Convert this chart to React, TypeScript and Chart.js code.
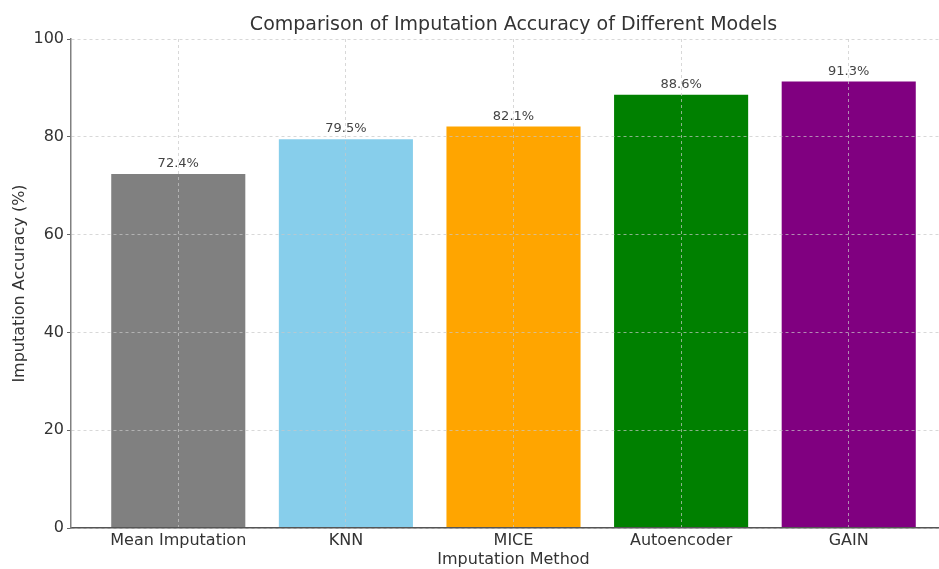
import React, { useEffect, useRef } from "react";
import { Chart, registerables } from "chart.js";

Chart.register(...registerables);

const categories = ["Mean Imputation", "KNN", "MICE", "Autoencoder", "GAIN"];
const accuracy = [72.4, 79.5, 82.1, 88.6, 91.3];
const barColors = ["#808080", "#87CEEB", "#FFA500", "#008000", "#800080"];
const yTicks = [0, 20, 40, 60, 80, 100];
const chartTitle = "Comparison of Imputation Accuracy of Different Models";
const xTitle = "Imputation Method";
const yTitle = "Imputation Accuracy (%)";

const FONT = "'DejaVu Sans', sans-serif";

export default function App() {
  const ref = useRef<HTMLCanvasElement | null>(null);

  useEffect(() => {
    if (!ref.current) return;
    const labelPlugin = {
      id: "labelsAndTitle",
      afterDatasetsDraw(chart: any) {
        const ctx = chart.ctx;
        const meta = chart.getDatasetMeta(0);
        ctx.save();
        ctx.font = `13px ${FONT}`;
        ctx.fillStyle = "#444";
        ctx.textAlign = "center";
        ctx.textBaseline = "alphabetic";
        meta.data.forEach((bar: any, i: number) => {
          ctx.fillText(`${accuracy[i]}%`, bar.x, bar.y - 7);
        });
        ctx.restore();
      },
      afterDraw(chart: any) {
        const ctx = chart.ctx;
        const ca = chart.chartArea;
        ctx.save();
        ctx.font = `19px ${FONT}`;
        ctx.fillStyle = "#333";
        ctx.textAlign = "center";
        ctx.textBaseline = "middle";
        ctx.fillText(chartTitle, (ca.left + ca.right) / 2, 25);
        ctx.restore();
      },
    };

    const gridColor = "rgba(200,200,200,0.7)";

    const chart = new Chart(ref.current, {
      type: "bar",
      data: {
        datasets: [
          {
            data: accuracy.map((v, i) => ({ x: i, y: v })),
            backgroundColor: barColors,
            borderWidth: 0,
            categoryPercentage: 1,
            barPercentage: 0.8,
          },
        ],
      },
      options: {
        responsive: false,
        animation: false,
        layout: { padding: { top: 39, left: 0, right: 0, bottom: 0 } },
        plugins: {
          legend: { display: false },
          tooltip: { enabled: false },
          title: { display: false },
        },
        scales: {
          x: {
            type: "linear",
            min: -0.64,
            max: 4.64,
            offset: false,
            afterBuildTicks: (scale: any) => {
              scale.ticks = categories.map((_, i) => ({ value: i }));
            },
            afterFit: (scale: any) => {
              scale.height = 41;
            },
            ticks: {
              callback: (v: any) => categories[v] ?? "",
              font: { family: FONT, size: 16 },
              color: "#333",
              padding: 3,
              maxRotation: 0,
              autoSkip: false,
            },
            grid: {
              offset: false,
              color: gridColor,
              lineWidth: 1,
              drawTicks: false,
              z: 1,
            },
            border: { display: true, color: "#555", width: 1.5, dash: [3, 3], z: 2 },
            title: {
              display: true,
              text: xTitle,
              font: { family: FONT, size: 16 },
              color: "#333",
              padding: { top: 0, bottom: 0 },
            },
          },
          y: {
            min: 0,
            max: 100,
            afterBuildTicks: (scale: any) => {
              scale.ticks = yTicks.map((v) => ({ value: v }));
            },
            afterFit: (scale: any) => {
              scale.width = 71;
            },
            ticks: {
              font: { family: FONT, size: 16 },
              color: "#333",
              padding: 3,
            },
            grid: {
              color: gridColor,
              lineWidth: 1,
              drawTicks: true,
              tickLength: 4,
              tickColor: "#666",
              tickWidth: 1,
              z: 1,
            },
            border: { display: true, color: "#808080", width: 1.5, dash: [3, 3], z: 2 },
            title: {
              display: true,
              text: yTitle,
              font: { family: FONT, size: 16 },
              color: "#333",
              padding: { top: 10, bottom: 0 },
            },
          },
        },
      },
      plugins: [labelPlugin],
    } as any);

    return () => chart.destroy();
  }, []);

  return (
    <div
      style={{
        position: "fixed",
        left: 0,
        top: 0,
        width: 939,
        height: 569,
        overflow: "hidden",
        background: "#fff",
      }}
    >
      <canvas ref={ref} width={956} height={569} style={{ display: "block" }} />
    </div>
  );
}
